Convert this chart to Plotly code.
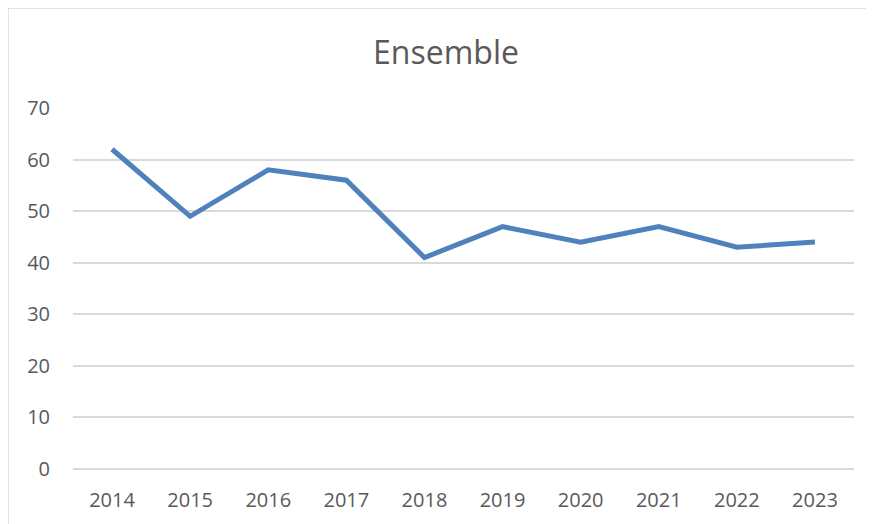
import plotly.graph_objects as go

years = ["2014", "2015", "2016", "2017", "2018", "2019", "2020", "2021", "2022", "2023"]
values = [62, 49, 58, 56, 41, 47, 44, 47, 43, 44]
y_ticks = [0, 10, 20, 30, 40, 50, 60, 70]

# page has an 8px body margin; figure coords = page coords - 8
OFF = 8
W, H = 866, 516
L, T = 73 - OFF, 108 - OFF
R = W - (854 - OFF)
B = H - (469 - OFF)
pw, ph = W - L - R, H - T - B

def px_x(p):
    return (p - OFF - L) / pw

def px_y(p):
    return (H - B - (p - OFF)) / ph

fig = go.Figure()
fig.add_trace(go.Scatter(
    x=years, y=values, mode="lines",
    line=dict(color="#4f81bd", width=5),
    hoverinfo="skip", showlegend=False,
))

fig.update_layout(
    width=W, height=H,
    margin=dict(l=L, r=R, t=T, b=B),
    paper_bgcolor="white", plot_bgcolor="white",
    font=dict(family="Open Sans", color="#595959", size=20),
    title=dict(text="Ensemble", x=px_x(446), xanchor="center", xref="paper",
               y=1 - (53 - OFF) / H, yanchor="middle",
               font=dict(size=32, color="#595959", family="Open Sans")),
    xaxis=dict(type="category", showgrid=False, zeroline=False, showline=False,
               ticks="", tickfont=dict(size=20, color="#595959"),
               ticklabelstandoff=17, range=[-0.5, len(years) - 0.5]),
    yaxis=dict(range=[0, 70], tickvals=y_ticks, showgrid=True,
               gridcolor="#d9d9d9", gridwidth=1.5, zeroline=True,
               zerolinecolor="#d9d9d9", zerolinewidth=1.5, showline=False,
               ticks="", tickfont=dict(size=20, color="#595959"),
               ticklabelstandoff=22),
    shapes=[
        dict(type="line", xref="paper", yref="paper",
             x0=px_x(8), x1=px_x(8), y0=px_y(8), y1=px_y(560),
             line=dict(color="#d9d9d9", width=1.5)),
        dict(type="line", xref="paper", yref="paper",
             x0=px_x(8), x1=px_x(900), y0=px_y(8), y1=px_y(8),
             line=dict(color="#d9d9d9", width=1.5)),
    ],
)

fig.write_html("out.html")
